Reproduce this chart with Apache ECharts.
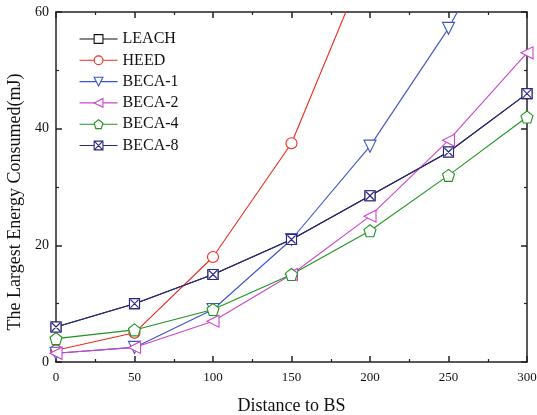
<!DOCTYPE html>
<html>
<head>
<meta charset="utf-8">
<script src="https://cdn.jsdelivr.net/npm/echarts@6/dist/echarts.min.js"></script>
<style>
html,body{margin:0;padding:0;background:#fff;}
#chart{width:537px;height:415px;}
</style>
</head>
<body>
<div id="chart"></div>
<script>
// Distance to BS (x) and largest energy consumed in mJ per protocol
const distances = [0, 50, 100, 150, 200, 250, 300];
const leach = [6, 10, 15, 21, 28.5, 36, 46];
const heed = [2, 5, 18, 37.5, 70, null, null];
const beca1 = [1.5, 2.5, 9, 21, 37, 57.2, 82];
const beca2 = [1.5, 2.5, 7, 15, 25, 38, 53];
const beca4 = [4, 5.5, 9, 15, 22.5, 32, 42];
const beca8 = [6, 10, 15, 21, 28.5, 36, 46];
const xTicks = [0, 50, 100, 150, 200, 250, 300];
const yTicks = [0, 20, 40, 60];

const SERIF = '"Liberation Serif", "DejaVu Serif", serif';
const pentagon = 'path://M0,-10 L9.51,-3.09 L5.88,8.09 L-5.88,8.09 L-9.51,-3.09 Z';
const boxX = 'path://M0,0 L10,0 L10,10 L0,10 Z M1,1 L9,9 M9,1 L1,9';

function pairs(vals) {
  return distances.map((d, i) => [d, vals[i]]);
}

function line(name, vals, color, symbol, size, rotate) {
  return {
    name: name,
    type: 'line',
    data: pairs(vals),
    symbol: symbol,
    symbolSize: size,
    symbolRotate: rotate || 0,
    showAllSymbol: true,
    connectNulls: false,
    lineStyle: { color: color, width: 1.1 },
    itemStyle: { color: '#fff', borderColor: color, borderWidth: 1.1 },
    emphasis: { disabled: true },
    clip: true,
    z: 3
  };
}

const chart = echarts.init(document.getElementById('chart'), null, { renderer: 'canvas' });

const axisLineStyle = { color: '#222', width: 1.5 };
const minorStyle = { color: '#222', width: 1.2 };

chart.setOption({
  animation: false,
  backgroundColor: '#fff',
  grid: { left: 56, right: 10, top: 12, bottom: 53, containLabel: false, outerBoundsMode: 'none' },
  legend: {
    orient: 'vertical',
    left: 74,
    top: 26,
    itemWidth: 38,
    itemHeight: 11,
    itemGap: 5.3,
    itemStyle: { borderWidth: 1.1 },
    lineStyle: { width: 1.1 },
    textStyle: { fontFamily: SERIF, fontSize: 16, color: '#111' },
    data: ['LEACH', 'HEED', 'BECA-1', 'BECA-2', 'BECA-4', 'BECA-8']
  },
  xAxis: [{
    type: 'value',
    min: 0, max: 300, interval: 50,
    name: 'Distance to BS',
    nameLocation: 'middle',
    nameGap: 35,
    nameTextStyle: { fontFamily: SERIF, fontSize: 18, color: '#111' },
    axisLine: { show: true, onZero: false, lineStyle: axisLineStyle },
    axisTick: { show: true, inside: true, length: 6, lineStyle: axisLineStyle },
    minorTick: { show: true, splitNumber: 2, length: 3, lineStyle: minorStyle },
    axisLabel: { fontFamily: SERIF, fontSize: 13, color: '#111', margin: 9,
      formatter: v => xTicks.includes(v) ? String(v) : '' },
    splitLine: { show: false }
  }, {
    type: 'value',
    position: 'top',
    min: 0, max: 300, interval: 50,
    axisLine: { show: true, onZero: false, lineStyle: axisLineStyle },
    axisTick: { show: true, inside: true, length: 6, lineStyle: axisLineStyle },
    minorTick: { show: true, splitNumber: 2, length: 3, lineStyle: minorStyle },
    axisLabel: { show: false },
    splitLine: { show: false }
  }],
  yAxis: [{
    type: 'value',
    min: 0, max: 60, interval: 20,
    name: 'The Largest Energy Consumed(mJ)',
    nameLocation: 'middle',
    nameGap: 27,
    nameTextStyle: { fontFamily: SERIF, fontSize: 18, color: '#111', padding: [0, 30, 0, 0] },
    axisLine: { show: true, onZero: false, lineStyle: axisLineStyle },
    axisTick: { show: true, inside: true, length: 6, lineStyle: axisLineStyle },
    minorTick: { show: true, splitNumber: 2, length: 3, lineStyle: minorStyle },
    axisLabel: { fontFamily: SERIF, fontSize: 14, color: '#111', margin: 7,
      formatter: v => yTicks.includes(v) ? String(v) : '' },
    splitLine: { show: false }
  }, {
    type: 'value',
    position: 'right',
    min: 0, max: 60, interval: 20,
    axisLine: { show: true, onZero: false, lineStyle: axisLineStyle },
    axisTick: { show: true, inside: true, length: 6, lineStyle: axisLineStyle },
    minorTick: { show: true, splitNumber: 2, length: 3, lineStyle: minorStyle },
    axisLabel: { show: false },
    splitLine: { show: false }
  }],
  series: [
    line('LEACH', leach, '#111111', 'rect', 10),
    line('HEED', heed, '#ee2a1e', 'circle', 11),
    line('BECA-1', beca1, '#3a55c8', 'triangle', 12, 180),
    line('BECA-2', beca2, '#cc44cc', 'triangle', 12, 90),
    line('BECA-4', beca4, '#1e9420', pentagon, 12),
    line('BECA-8', beca8, '#2a2882', boxX, 10)
  ]
});
</script>
</body>
</html>
